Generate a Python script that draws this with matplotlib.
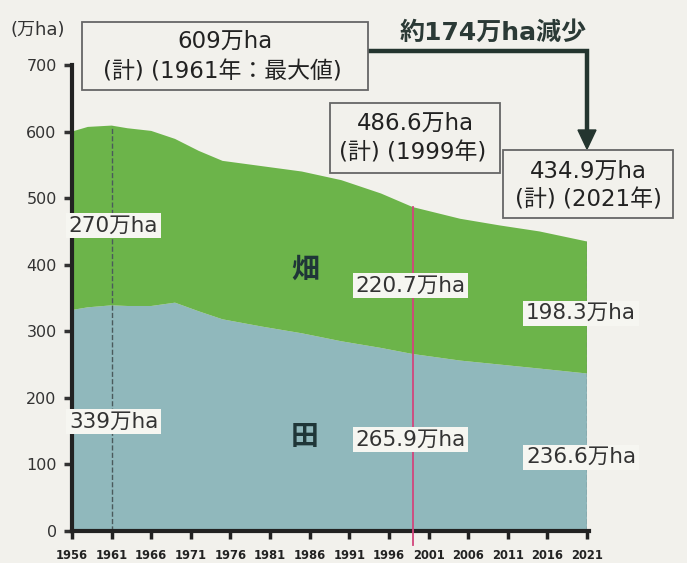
import matplotlib.pyplot as plt
from matplotlib.patches import Rectangle, Polygon

plt.rcParams['font.family'] = ['DejaVu Sans', 'Noto Sans CJK JP']

# 耕地面積の推移(万ha)
years = [1956, 1958, 1961, 1963, 1966, 1969, 1972, 1975, 1980, 1985, 1990, 1995, 1999, 2005, 2010, 2015, 2021]
ta = [332, 336, 339, 338, 338, 343, 330, 318, 307, 297, 285, 275, 265.9, 256, 250, 244, 236.6]
hata = [268, 271, 270, 267, 263, 246, 241, 238, 241, 243, 242, 232, 220.7, 213, 209, 206, 198.3]
xticks = list(range(1956, 2022, 5))

W, H = 687, 563
bg = '#f2f1ec'
fig = plt.figure(figsize=(W / 100, H / 100), dpi=100, facecolor=bg)
ax = fig.add_axes([72 / W, 32 / H, 515 / W, 466 / H], facecolor=bg)


def fx(x):
    return x / W


def fy(y):
    return 1 - y / H


ax.stackplot(years, ta, hata, colors=['#90b8bc', '#6cb44a'], linewidth=0)

total = [a + b for a, b in zip(ta, hata)]
ax.plot([1961, 1961], [0, total[2]], ls='--', color='#4a5a5c', lw=1)
ax.plot([2021, 2021], [0, total[-1]], ls='--', color='#6a7a7c', lw=1)
ax.plot([1999, 1999], [-21, total[12]], color='#d2457c', lw=1.3, clip_on=False, zorder=5)

ax.set_xlim(1956, 2021)
ax.set_ylim(0, 700)
ax.set_xticks(xticks)
ax.set_xticklabels([str(y) for y in xticks], fontsize=8.3, fontweight='bold', color='#222')
ax.set_yticks(range(0, 701, 100))
ax.tick_params(axis='y', labelsize=11.5, colors='#333', length=6, width=2.5, pad=5)
ax.tick_params(axis='x', length=6, width=2.5, colors='#222', pad=7)
for s in ['top', 'right']:
    ax.spines[s].set_visible(False)
for s in ['left', 'bottom']:
    ax.spines[s].set_linewidth(3)
    ax.spines[s].set_color('#222')
ax.spines['bottom'].set_bounds(1956, 2021.3)

fig.text(fx(10), fy(30), '(万ha)', fontsize=13, color='#333', va='center')

# 各区分の面積ラベル
lab = dict(fontsize=15.5, color='#333', va='center', ha='left', zorder=6,
           bbox=dict(boxstyle='square,pad=0.12', fc='#f6f6f1', ec='none'))
ax.text(1955.6, 459, f'{hata[2]:.0f}万ha', **lab)
ax.text(1955.6, 164, f'{ta[2]:.0f}万ha', **lab)
ax.text(1991.8, 369, f'{hata[12]}万ha', **lab)
ax.text(1991.8, 137, f'{ta[12]}万ha', **lab)
ax.text(2013.3, 327, f'{hata[-1]}万ha', **lab)
ax.text(2013.3, 111, f'{ta[-1]}万ha', **lab)

ax.text(1985.4, 392, '畑', fontsize=20, fontweight='bold', color='#1f3638', ha='center', va='center')
ax.text(1985.4, 141, '田', fontsize=20, fontweight='bold', color='#1f3638', ha='center', va='center')

# 合計値の囲み
for x0, y0, x1, y1 in [(82, 22, 368, 90), (330, 103, 500, 173), (503, 150, 673, 218)]:
    fig.add_artist(Rectangle((fx(x0), fy(y1)), fx(x1 - x0), (y1 - y0) / H,
                             fc=bg, ec='#666', lw=1.3, zorder=4))
box_txt = dict(color='#222', ha='center', va='center', zorder=5)
fig.text(fx(225), fy(41), f'{total[2]:.0f}万ha', fontsize=16.5, **box_txt)
fig.text(fx(222), fy(72), '(計) (1961年：最大値)', fontsize=16.5, **box_txt)
fig.text(fx(415), fy(123), f'{total[12]:.1f}万ha', fontsize=16.5, **box_txt)
fig.text(fx(413), fy(153), '(計) (1999年)', fontsize=16.5, **box_txt)
fig.text(fx(588), fy(171), f'{total[-1]:.1f}万ha', fontsize=16.5, **box_txt)
fig.text(fx(588), fy(200), '(計) (2021年)', fontsize=16.5, **box_txt)

fig.text(fx(493), fy(33), f'約{total[2] - total[-1]:.0f}万ha減少', fontsize=18, fontweight='bold',
         color='#2b3a36', ha='center', va='center')

# 減少を示す矢印
fig.add_artist(plt.Line2D([fx(368), fx(587), fx(587)], [fy(51), fy(51), fy(135)],
                          color='#24352f', lw=3.2, solid_joinstyle='miter'))
fig.add_artist(Polygon([(fx(578), fy(130)), (fx(596), fy(130)), (fx(587), fy(149))],
                       closed=True, fc='#24352f', ec='#24352f'))

fig.savefig('out.png', dpi=100, facecolor=bg)
